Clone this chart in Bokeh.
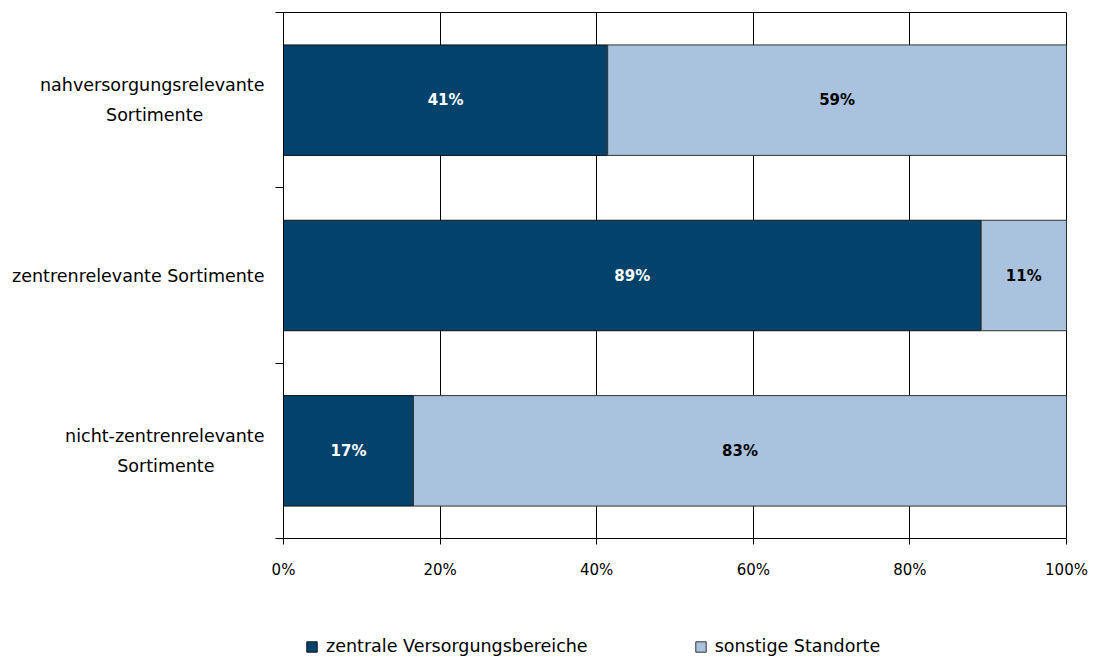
from bokeh.plotting import figure
from bokeh.layouts import column
from bokeh.models import Range1d, FixedTicker, Legend, LegendItem, ColumnDataSource
from bokeh.core.properties import value
from bokeh.embed import file_html
from bokeh.resources import INLINE

categories = [["nahversorgungsrelevante", "Sortimente"],
              ["zentrenrelevante Sortimente"],
              ["nicht-zentrenrelevante", "Sortimente"]]
zentral = [41.4, 89.1, 16.6]
sonstige = [58.6, 10.9, 83.4]
series_names = ["zentrale Versorgungsbereiche", "sonstige Standorte"]
x_ticks = [0, 20, 40, 60, 80, 100]

DARK = "#02426B"
LIGHT = "#A9C3DE"
FONT = "DejaVu Sans"

# approximate DejaVu Sans advance widths (em) to centre the second label line
W = {'a': .613, 'b': .635, 'c': .55, 'd': .635, 'e': .615, 'g': .635, 'h': .634, 'i': .278,
     'l': .278, 'm': .974, 'n': .634, 'o': .612, 'r': .411, 's': .521, 't': .392, 'u': .634,
     'v': .592, 'z': .525, 'S': .635, '-': .361, ' ': .318}


def width(s):
    return sum(W.get(ch, .6) for ch in s)


def centred(lines):
    if len(lines) == 1:
        return lines[0]
    longest = max(width(l) for l in lines)
    out = []
    for l in lines:
        pad = int(round((longest - width(l)) / 2 / W[' ']))
        out.append(l + "\u00a0" * pad)
    return "\n".join(out)


pos = [i + 0.5 for i in range(len(categories))]
left2 = zentral
right2 = [a + b for a, b in zip(zentral, sonstige)]

p = figure(width=1090, height=600, output_backend="svg", toolbar_location=None,
           x_range=Range1d(0, 100), y_range=Range1d(len(categories), 0),
           min_border_left=283, min_border_right=24, min_border_top=12, min_border_bottom=62)

src = ColumnDataSource(dict(y=pos, z=zentral, l2=left2, r2=right2,
                            zx=[v / 2 for v in zentral],
                            sx=[a + b / 2 for a, b in zip(zentral, sonstige)],
                            zl=[f"{round(v)}%" for v in zentral],
                            sl=[f"{round(v)}%" for v in sonstige]))

bar_styles = [dict(fill_color=DARK, line_color="#111111", line_width=1),
              dict(fill_color=LIGHT, line_color="#333333", line_width=1)]

p.hbar(y="y", left=0, right="z", height=0.63, source=src, **bar_styles[0])
p.hbar(y="y", left="l2", right="r2", height=0.63, source=src, **bar_styles[1])

p.text(x="zx", y="y", text="zl", source=src, text_align="center", text_baseline="middle",
       text_color="white", text_font=value(FONT), text_font_style="bold", text_font_size="15px")
p.text(x="sx", y="y", text="sl", source=src, text_align="center", text_baseline="middle",
       text_color="black", text_font=value(FONT), text_font_style="bold", text_font_size="15px")

# x axis
p.xaxis.ticker = FixedTicker(ticks=x_ticks)
p.xaxis.major_label_overrides = {t: f"{t}%" for t in x_ticks}
p.xaxis.major_tick_in = 0
p.xaxis.major_tick_out = 6
p.xaxis.minor_tick_out = 0
p.xaxis.minor_tick_in = 0
p.xaxis.axis_line_color = "black"
p.xaxis.major_tick_line_color = "black"
p.xaxis.major_label_text_font = FONT
p.xaxis.major_label_text_font_size = "15px"
p.xaxis.major_label_text_color = "black"
p.xaxis.major_label_standoff = 16

# y axis
p.yaxis.ticker = FixedTicker(ticks=pos, minor_ticks=list(range(len(categories) + 1)))
p.yaxis.major_label_overrides = {v: centred(c) for v, c in zip(pos, categories)}
p.yaxis.major_tick_in = 0
p.yaxis.major_tick_out = 0
p.yaxis.minor_tick_in = 0
p.yaxis.minor_tick_out = 8
p.yaxis.minor_tick_line_color = "black"
p.yaxis.axis_line_color = "black"
p.yaxis.major_label_text_font = FONT
p.yaxis.major_label_text_font_size = "17.5px"
p.yaxis.major_label_text_line_height = 1.5
p.yaxis.major_label_text_color = "black"
p.yaxis.major_label_standoff = 11

p.xgrid.ticker = FixedTicker(ticks=x_ticks)
p.xgrid.grid_line_color = "black"
p.xgrid.grid_line_alpha = 1
p.ygrid.grid_line_color = None
p.outline_line_color = "black"
p.outline_line_alpha = 1

# legend strip below the chart (its frame is aligned with the chart frame by the column)
lg = figure(width=1090, height=56, output_backend="svg", toolbar_location=None,
            x_axis_type=None, y_axis_type=None, x_range=Range1d(0, 1), y_range=Range1d(0, 1),
            min_border_left=283, min_border_right=24, min_border_top=0, min_border_bottom=0,
            outline_line_color=None)
lg.grid.grid_line_color = None
offscreen = ColumnDataSource(dict(y=[-5], left=[-5], right=[-4]))
legend_renderers = [lg.hbar(y="y", left="left", right="right", height=0.5, source=offscreen,
                            visible=False, **st)
                    for st in bar_styles]

legend = Legend(items=[LegendItem(label=n, renderers=[r]) for n, r in zip(series_names, legend_renderers)],
                orientation="horizontal", location=(22, 0),
                glyph_width=13, glyph_height=13, label_standoff=8, spacing=106,
                label_text_font=FONT, label_text_font_size="17.5px", label_text_color="black",
                inactive_fill_alpha=0,
                border_line_color=None, background_fill_alpha=0, padding=0, margin=0)
lg.add_layout(legend, "center")

layout = column(p, lg, spacing=0)
open("out.html", "w").write(file_html(layout, INLINE))
